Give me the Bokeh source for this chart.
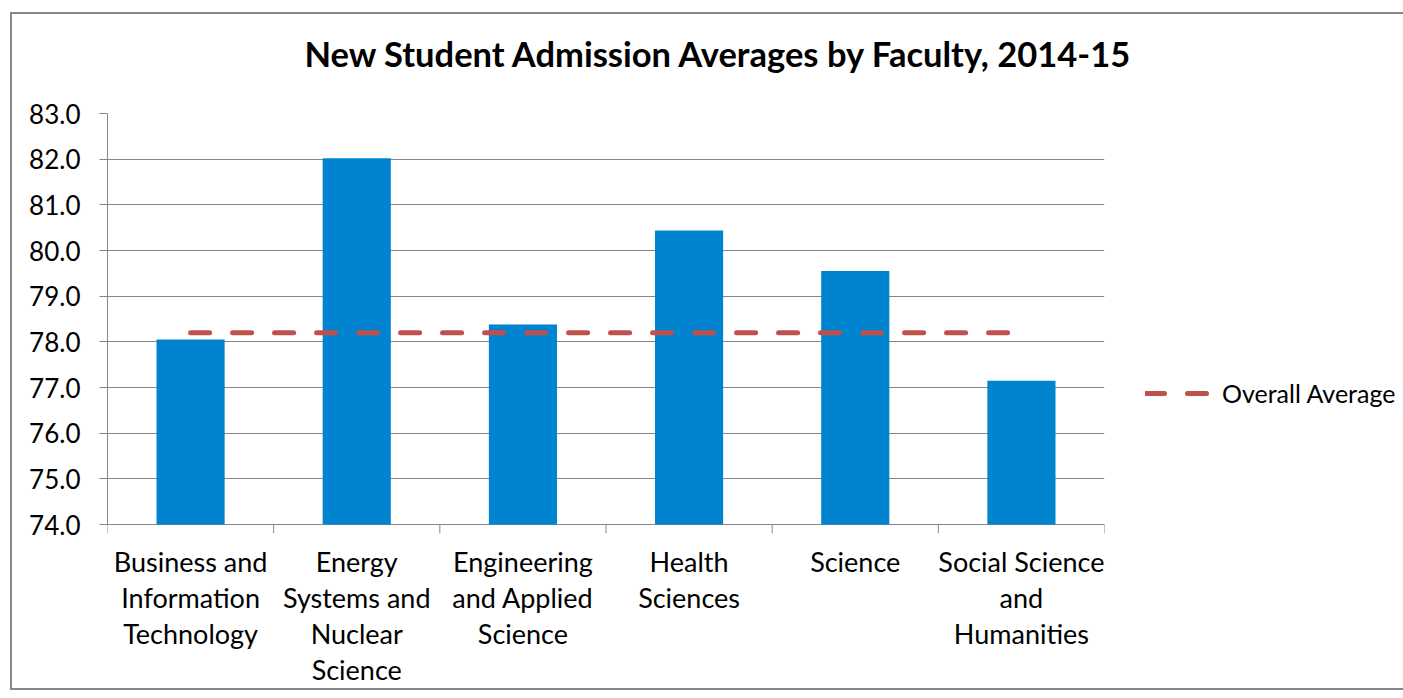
from bokeh.plotting import figure
from bokeh.models import (Range1d, FactorRange, CategoricalAxis, FixedTicker,
                          Legend, LegendItem, PrintfTickFormatter, Title,
                          CustomJSTickFormatter)
from bokeh.embed import file_html
from bokeh.resources import INLINE

# ---- data ----
categories = [
    "Business and Information Technology",
    "Energy Systems and Nuclear Science",
    "Engineering and Applied Science",
    "Health Sciences",
    "Science",
    "Social Science and Humanities",
]
category_label_lines = [
    ["Business and", "Information", "Technology"],
    ["Energy", "Systems and", "Nuclear", "Science"],
    ["Engineering", "and Applied", "Science"],
    ["Health", "Sciences"],
    ["Science"],
    ["Social Science", "and", "Humanities"],
]
admission_averages = [78.05, 82.02, 78.38, 80.44, 79.55, 77.15]
overall_average = [78.2, 78.2, 78.2, 78.2, 78.2, 78.2]
y_ticks = [74, 75, 76, 77, 78, 79, 80, 81, 82, 83]
title_text = "New Student Admission Averages by Faculty, 2014-15"
legend_label = "Overall Average"

FONT = "Lato"
GRAY = "#868686"
BLUE = "#0084D0"
RED = "#C0504D"

PX_PER_UNIT = 411 / 9.0
TICK_LEN = 9  # px, x-axis boundary tick length below the axis
y_low = y_ticks[0] - TICK_LEN / PX_PER_UNIT

p = figure(
    x_range=FactorRange(factors=categories, range_padding=0),
    y_range=Range1d(y_low, y_ticks[-1]),
    frame_width=997, frame_height=411 + TICK_LEN,
    min_border_left=95, min_border_right=285, min_border_top=99, min_border_bottom=140,
    output_backend="svg", toolbar_location=None,
    x_axis_location=None, y_axis_location="left",
    background_fill_color="white", border_fill_color="white",
    title=None,
)
p.outline_line_color = None
p.styles = {"border": "2px solid #878787", "margin-left": "10px", "margin-top": "12px"}

# spacer between the title and the plot area, then the title itself
p.add_layout(Title(text=" ", text_font_size="2px", standoff=16), "above")
p.add_layout(Title(
    text=title_text, text_font=FONT, text_font_style="bold",
    text_font_size="34.5px", text_color="black",
    align="left", offset=197, standoff=35, vertical_align="top",
), "above")

# grid
p.xgrid.visible = False
p.ygrid.ticker = FixedTicker(ticks=y_ticks)
p.ygrid.grid_line_color = GRAY
p.ygrid.grid_line_width = 1

# y axis
ya = p.yaxis[0]
ya.ticker = FixedTicker(ticks=y_ticks)
ya.bounds = (y_ticks[0], y_ticks[-1])
ya.formatter = PrintfTickFormatter(format="%.1f")
ya.axis_line_color = GRAY
ya.major_tick_line_color = GRAY
ya.major_tick_in = 0
ya.major_tick_out = 8
ya.minor_tick_line_color = None
ya.major_label_text_font = FONT
ya.major_label_text_font_size = "26px"
ya.major_label_text_color = "black"
ya.major_label_standoff = 19

# x axis boundary ticks (between categories)
bounds_x = [(c, -0.5) for c in categories] + [(categories[-1], 0.5)]
p.segment(x0=bounds_x, y0=[y_ticks[0]] * len(bounds_x),
          x1=bounds_x, y1=[y_low] * len(bounds_x),
          line_color=GRAY, line_width=1)

# category labels: one stacked axis per text line
n_lines = max(len(l) for l in category_label_lines)
for i in range(n_lines):
    line_texts = [(lines[i] if i < len(lines) else "") for lines in category_label_lines]
    fmt = CustomJSTickFormatter(
        args=dict(cats=categories, texts=line_texts),
        code="const k = cats.indexOf(tick); return k >= 0 ? texts[k] : '';",
    )
    ax = CategoricalAxis(
        axis_line_color=None, major_tick_line_color=None, minor_tick_line_color=None,
        major_tick_in=0, major_tick_out=0,
        formatter=fmt,
        major_label_text_font=FONT, major_label_text_font_size="27px",
        major_label_text_color="black",
        major_label_standoff=11 if i == 0 else 0,
    )
    p.add_layout(ax, "below")

# bars
p.vbar(x=categories, top=admission_averages, bottom=y_ticks[0], width=0.41,
       fill_color=BLUE, line_color=None)

# overall average line
avg = p.line(x=categories, y=overall_average, line_color=RED, line_width=5,
             line_dash="19 23", line_cap="round")

legend = Legend(
    items=[LegendItem(label=legend_label, renderers=[avg])],
    location=(41, 125), orientation="vertical",
    glyph_width=65, glyph_height=24, label_standoff=12,
    padding=0, margin=0, spacing=0,
    border_line_color=None, background_fill_alpha=0,
    label_text_font=FONT, label_text_font_size="25px", label_text_color="black",
)
p.add_layout(legend, "right")

open("out.html", "w").write(file_html(p, INLINE))
